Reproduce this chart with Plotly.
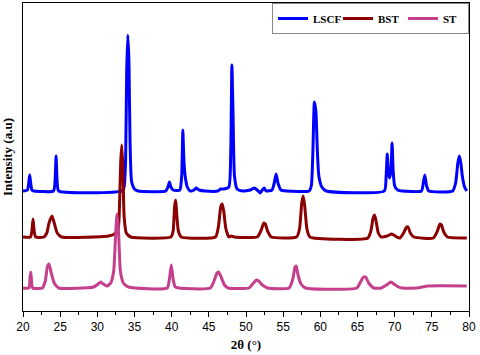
import plotly.graph_objects as go

# XRD patterns (2theta in degrees, intensity in a.u. with vertical offsets)
lscf_2theta = [
    20.0, 20.6, 20.8, 20.9, 21.0, 21.2, 21.5,
    24.1, 24.3, 24.45, 24.6, 24.8,
    33.3, 33.6, 33.8, 33.95, 34.1, 34.25, 34.4, 34.6, 35.0, 35.5,
    39.2, 39.5, 39.7, 39.9, 40.2,
    41.1, 41.35, 41.5, 41.65, 41.85, 42.1, 42.5, 43.0, 43.3, 43.7, 44.5,
    46.2, 46.6, 47.0,
    47.7, 47.95, 48.1, 48.25, 48.45, 48.8, 49.5,
    50.6, 51.1, 51.5, 51.9, 52.2, 52.45, 52.7,
    53.5, 53.8, 54.05, 54.3, 54.7, 55.5,
    58.5, 58.8, 59.0, 59.2, 59.4, 59.6, 59.8, 60.2, 60.8,
    68.6, 68.85, 69.0, 69.15, 69.3, 69.5, 69.65, 69.8, 70.0, 70.4, 71.0,
    73.6, 73.85, 74.05, 74.3, 74.6,
    77.8, 78.2, 78.5, 78.7, 78.9, 79.1, 79.4, 79.7,
]
lscf_int = [
    120, 121, 130, 136, 130, 121, 120,
    120, 128, 155, 128, 120,
    120, 124, 150, 240, 276, 250, 170, 130, 122, 120,
    120, 124, 129, 124, 121,
    121, 135, 181, 150, 133, 124, 120, 121, 123, 121, 120,
    120, 122, 122,
    124, 160, 246, 200, 135, 122, 120,
    121, 123, 121, 118, 121, 123, 120,
    121, 128, 137, 128, 121, 120,
    120, 126, 160, 209, 200, 160, 135, 124, 120,
    120, 135, 157, 140, 133, 140, 168, 140, 125, 121, 120,
    120, 128, 136, 125, 120,
    120, 128, 148, 155, 148, 135, 124, 120,
]

bst_2theta = [
    20.0, 21.0, 21.2, 21.35, 21.5, 21.7,
    22.8, 23.2, 23.5, 23.9, 24.2, 24.6, 25.2,
    31.5, 32.3, 32.8, 33.0, 33.15, 33.3, 33.45, 33.6, 33.9, 34.5,
    39.9, 40.2, 40.4, 40.55, 40.7, 40.9, 41.3,
    45.9, 46.3, 46.6, 46.8, 47.0, 47.3, 47.7, 48.0, 48.4,
    51.5, 52.0, 52.4, 52.6, 52.9, 53.4,
    56.8, 57.2, 57.5, 57.7, 57.9, 58.2, 58.6,
    66.4, 66.8, 67.1, 67.3, 67.5, 67.8, 68.2, 69.0, 69.6, 70.3,
    70.7, 71.2, 71.6, 71.8, 72.1, 72.6,
    75.2, 75.7, 76.1, 76.3, 76.6, 77.1, 79.7,
]
bst_int = [
    74, 74, 80, 92, 80, 74,
    74, 78, 88, 95, 88, 78, 74,
    75, 77, 82, 110, 150, 166, 140, 95, 78, 74,
    74, 80, 105, 111, 95, 80, 74,
    74, 85, 104, 107, 100, 82, 74, 75, 74,
    74, 80, 88, 87, 80, 74,
    74, 82, 108, 115, 105, 82, 74,
    73, 80, 93, 96, 90, 78, 74, 75, 77, 74,
    73, 78, 84, 84, 78, 74,
    73, 79, 87, 86, 79, 74, 73,
]

st_2theta = [
    20.0, 20.8, 20.95, 21.05, 21.15, 21.3,
    22.6, 23.0, 23.3, 23.5, 23.8, 24.2, 24.8,
    29.5, 30.1, 30.45, 30.8, 31.3, 31.8, 32.2, 32.45, 32.65, 32.85, 33.1, 33.5, 34.2,
    39.4, 39.7, 39.95, 40.2, 40.5,
    45.2, 45.7, 46.1, 46.3, 46.6, 47.1, 47.6,
    50.4, 51.0, 51.4, 51.7, 52.2, 52.9,
    55.8, 56.3, 56.6, 56.75, 57.0, 57.4, 58.0,
    64.9, 65.4, 65.8, 66.1, 66.5, 67.2,
    68.2, 68.9, 69.5, 69.9, 70.5, 71.0, 73.0, 74.5, 79.7,
]
st_int = [
    23, 23, 34, 39, 30, 23,
    23, 30, 45, 47, 38, 28, 23,
    24, 27, 29, 27, 25, 28, 40, 75, 97, 80, 40, 28, 24,
    23, 32, 46, 32, 24,
    23, 30, 38, 39, 35, 26, 23,
    23, 28, 31, 30, 26, 23,
    23, 32, 44, 45, 36, 27, 23,
    23, 29, 34, 34, 28, 23,
    23, 26, 29, 27, 24, 23, 23, 25, 25,
]

x_ticks = [20, 25, 30, 35, 40, 45, 50, 55, 60, 65, 70, 75, 80]

serif = "Liberation Serif, Times New Roman, serif"
sans = "Liberation Sans, Arial, sans-serif"

fig = go.Figure()

series = [
    ("LSCF", lscf_2theta, lscf_int, "#0000FF"),
    ("BST", bst_2theta, bst_int, "#8B0000"),
    ("ST", st_2theta, st_int, "#C4408C"),
]
for name, xs, ys, color in series:
    fig.add_trace(
        go.Scatter(
            x=xs,
            y=ys,
            mode="lines",
            name=f"<b>{name}</b>",
            line=dict(color=color, width=3, shape="spline", smoothing=0.5),
        )
    )

fig.update_layout(
    width=480,
    height=355,
    template="plotly_white",
    plot_bgcolor="white",
    paper_bgcolor="white",
    margin=dict(l=23, r=11, t=3, b=44),
    xaxis=dict(
        range=[20, 80],
        tickvals=x_ticks,
        ticks="outside",
        ticklen=5,
        tickcolor="black",
        minor=dict(dtick=2.5, ticks="outside", ticklen=3, tickcolor="black"),
        showline=True,
        mirror=True,
        linecolor="black",
        linewidth=1,
        showgrid=False,
        zeroline=False,
        automargin=False,
        tickfont=dict(family=sans, size=12, color="black"),
        title=dict(
            text="<b>2θ (°)</b>",
            font=dict(family=serif, size=13, color="black"),
            standoff=6,
        ),
    ),
    yaxis=dict(
        range=[0, 308],
        showticklabels=False,
        ticks="",
        showline=True,
        mirror=True,
        linecolor="black",
        linewidth=1,
        showgrid=False,
        zeroline=False,
        automargin=False,
        title=dict(
            text="<b>Intensity (a.u)</b>",
            font=dict(family=serif, size=13, color="black"),
            standoff=6,
        ),
    ),
    legend=dict(
        orientation="h",
        x=1,
        xanchor="right",
        y=1,
        yanchor="top",
        bgcolor="white",
        bordercolor="#888888",
        borderwidth=1,
        font=dict(family=serif, size=11, color="black"),
        tracegroupgap=0,
        itemwidth=30,
        entrywidth=20,
        entrywidthmode="pixels",
    ),
)

# drop the page's default body margin so the figure sits at the window origin
fig.write_html(
    "out.html",
    config={"displayModeBar": False},
    post_script="document.body.style.margin='0';",
)
